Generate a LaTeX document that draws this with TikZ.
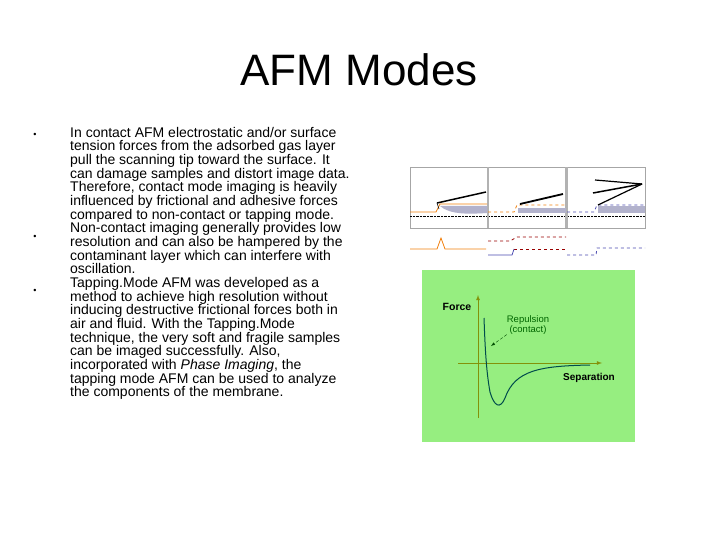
\documentclass[tikz,border=0pt]{standalone}
\usepackage{fontspec}
\setmainfont{Liberation Sans}
\definecolor{gbg}{RGB}{150,238,128}
\begin{document}
\begin{tikzpicture}[x=1pt,y=-1pt,
  body/.style={anchor=north west,inner sep=0pt,align=left,font=\fontsize{14}{13.65}\selectfont},
  bul/.style={anchor=center,inner sep=0pt,font=\fontsize{9}{12}\selectfont},
  panel/.style={draw=gray!70,line width=0.6pt},
  orng/.style={draw=orange!80!brown,line width=0.8pt},
  blu/.style={draw=blue!40!gray,line width=0.8pt,dashed},
  red/.style={draw=red!60!black,line width=0.8pt,dashed}]
\useasboundingbox (0,0) rectangle (720,540);
\fill[white] (0,0) rectangle (720,540);
\node[inner sep=0pt,font=\fontsize{44}{48}\selectfont] (title) at (359,70) {AFM Modes};
\node[bul] (b1) at (35,135) {\textbullet};
\node[bul] (b2) at (35,237) {\textbullet};
\node[bul] (b3) at (35,291) {\textbullet};
\node[body] (txt) at (70,127) {In contact AFM electrostatic and/or surface\\
tension forces from the adsorbed gas layer\\
pull the scanning tip toward the surface. It\\
can damage samples and distort image data.\\
Therefore, contact mode imaging is heavily\\
influenced by frictional and adhesive forces\\
compared to non-contact or tapping mode.\\
Non-contact imaging generally provides low\\
resolution and can also be hampered by the\\
contaminant layer which can interfere with\\
oscillation.\\
Tapping.Mode AFM was developed as a\\
method to achieve high resolution without\\
inducing destructive frictional forces both in\\
air and fluid. With the Tapping.Mode\\
technique, the very soft and fragile samples\\
can be imaged successfully. Also,\\
incorporated with \textit{Phase Imaging}, the\\
tapping mode AFM can be used to analyze\\
the components of the membrane.};
% top panels
\foreach \a/\b in {410/487,488/566,567/645}{
  \draw[panel] (\a,167) rectangle (\b,228);
  \draw[densely dotted] (\a,216) -- (\b,216);
}
\fill[gray!60] (487,167) rectangle (489,228);
\fill[gray!60] (565,167) rectangle (568,228);
% panel 1
\fill[blue!20!gray!50] (440,206) .. controls (450,215) and (470,214) .. (487,213) -- (487,206) -- cycle;
\draw[orng] (410,212) -- (436,212) -- (440,204) -- (487,204);
\draw[line width=1.5pt] (437,203) -- (486,192);
\draw[line width=0.6pt] (437,203) -- (439,209);
\draw[orng] (410,249) -- (437,249) -- (441,238) -- (445,249) -- (486,249);
% panel 2
\fill[blue!20!gray!50] (518,208) rectangle (566,213);
\draw[orng,dashed] (488,212) -- (514,212) -- (517,205) -- (566,205);
\draw[line width=1.8pt] (520,204) -- (563,194);
\draw[red] (488,241) -- (510,241) -- (517,237) -- (566,237);
\draw[red] (514,249) -- (566,249);
\draw[draw=blue!40!gray,line width=0.8pt] (488,255) -- (512,255) -- (514,249);
% panel 3
\fill[blue!20!gray!50] (598,206) rectangle (645,213);
\draw[blu] (567,212) -- (594,212) -- (597,205) -- (645,205);
\draw[line width=1.2pt] (595,180) -- (642,184);
\draw[line width=1.5pt] (593,193) -- (642,184);
\draw[line width=1.2pt] (598,205) -- (642,184);
\draw[blu] (567,255) -- (596,255) -- (597,248) -- (645,248);
% green graph
\fill[gbg] (422,270) rectangle (635,442);
\draw[draw=olive!80!green,line width=0.8pt,-latex] (478,418) -- (478,295);
\draw[draw=olive!80!green,line width=0.8pt,-latex] (458,363) -- (602,363);
\draw[draw=teal!60!black,line width=1pt] (484,318) .. controls (485,345) and (486,370) .. (490,392)
  .. controls (494,406) and (500,410) .. (505,398)
  .. controls (515,370) and (540,366) .. (590,365);
\node[inner sep=0pt,font=\bfseries\fontsize{10.5}{11}\selectfont] (force) at (457,307) {Force};
\node[inner sep=0pt,font=\fontsize{9.5}{10}\selectfont,text=green!40!black,align=center] (rep) at (528,325) {Repulsion\\(contact)};
\node[inner sep=0pt,font=\bfseries\fontsize{10}{11}\selectfont] (sep) at (589,378) {Separation};
\draw[-latex,densely dashed,draw=green!30!black] (rep.south west) -- (491,346);
\end{tikzpicture}
\end{document}
